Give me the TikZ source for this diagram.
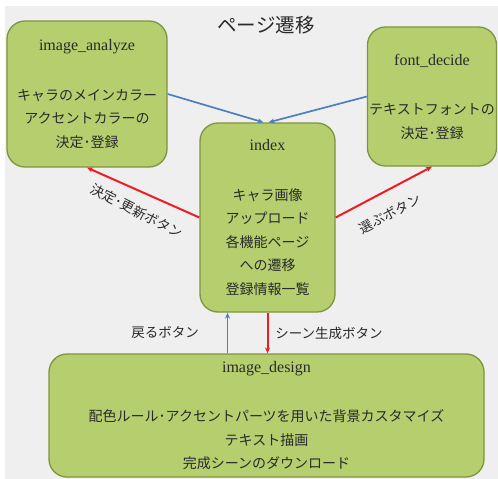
\documentclass[tikz,border=0pt]{standalone}
\usepackage{fontspec}
\setmainfont{Liberation Serif}
\newfontfamily\cjk{Noto Sans CJK JP}
\usetikzlibrary{arrows.meta}
\definecolor{boxfill}{HTML}{B5CF6F}
\definecolor{boxborder}{HTML}{7F9440}
\definecolor{bgc}{HTML}{EFEFF0}
\definecolor{bluearr}{HTML}{4F7FBF}
\definecolor{redarr}{HTML}{F01C24}
\definecolor{txt}{HTML}{2A2A2A}
\tikzset{
  box/.style={draw=boxborder, fill=boxfill, rounded corners=18pt, line width=1.3pt,
    align=center, inner sep=0pt, text=txt, font=\fontsize{14}{23.5}\selectfont},
  bluel/.style={draw=bluearr, line width=1.7pt, -{Stealth[length=6pt,width=5pt]}},
  redl/.style={draw=redarr, line width=2pt, -{Stealth[length=6pt,width=5pt]}},
  lbl/.style={font=\cjk\fontsize{13.5}{13.5}\selectfont, text=txt, inner sep=0pt}
}
\newcommand{\tl}[1]{{\fontsize{16}{23.5}\selectfont #1}}
\begin{document}
\begin{tikzpicture}[x=1pt,y=-1pt]
\useasboundingbox (0,0) rectangle (498,479);
\fill[bgc] (0,0) rectangle (498,479);
\fill[white] (0,0) rectangle (498,6);
\fill[white] (0,0) rectangle (5,479);

\node[lbl, font=\cjk\fontsize{19.5}{19.5}\selectfont] (title) at (266,25) {ページ遷移};

\node[box, minimum width=160pt, minimum height=146pt] (ia) at (87,94)
  {\tl{image\_analyze}\\[26pt] {\cjk キャラのメインカラー}\\ {\cjk アクセントカラーの}\\ {\cjk 決定･登録}};
\node[box, minimum width=129pt, minimum height=139pt] (fd) at (432,96.5)
  {\tl{font\_decide}\\[26pt] {\cjk テキストフォントの}\\ {\cjk 決定･登録}};
\node[box, minimum width=135pt, minimum height=189pt] (idx) at (267.5,217.5)
  {\tl{index}\\[26pt] {\cjk キャラ画像}\\ {\cjk アップロード}\\ {\cjk 各機能ページ}\\ {\cjk への遷移}\\ {\cjk 登録情報一覧}};
\node[box, minimum width=435pt, minimum height=123pt] (des) at (266.5,415.5)
  {\tl{image\_design}\\[26pt] {\cjk 配色ルール･アクセントパーツを用いた背景カスタマイズ}\\ {\cjk テキスト描画}\\ {\cjk 完成シーンのダウンロード}};

\draw[bluel] (ia.east) -- ([xshift=-4pt]idx.north);
\draw[bluel] (fd.west) -- ([xshift=1pt]idx.north);
\draw[redl] (idx.west) -- (ia.south);
\draw[redl] (idx.east) -- (fd.south);

\coordinate (bx) at ([xshift=-40pt]idx.south);
\draw[bluel] (bx |- des.north) -- (bx);
\draw[redl] (idx.south) -- (idx.south |- des.north);

\node[lbl, rotate=-27] (l1) at (137,211) {決定･更新ボタン};
\node[lbl, rotate=28] (l2) at (390,214) {選ぶボタン};
\node[lbl] (l3) at (165,333) {戻るボタン};
\node[lbl] (l4) at (329,333) {シーン生成ボタン};
\end{tikzpicture}
\end{document}
